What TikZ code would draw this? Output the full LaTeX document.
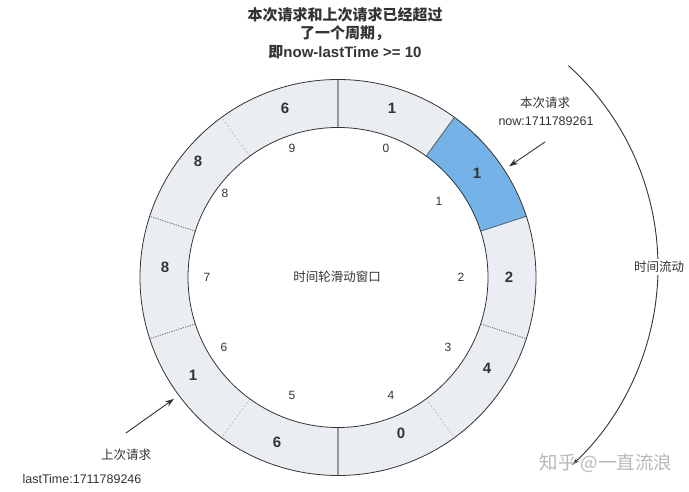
\documentclass[tikz,border=0pt]{standalone}
\usepackage{fontspec}
\setmainfont{Liberation Sans}
\newfontfamily\cjk{Noto Sans CJK SC}
\usetikzlibrary{arrows.meta}
\definecolor{ringfill}{HTML}{EAEEF2}
\definecolor{ringblue}{HTML}{74B3E7}
\definecolor{txt}{HTML}{333333}
\definecolor{softline}{HTML}{BBBBBB}
\definecolor{midline}{HTML}{999999}
\begin{document}
\begin{tikzpicture}[x=1pt,y=1pt,
  seglabel/.style={font=\fontsize{15}{18}\selectfont\bfseries, text=txt, inner sep=0pt},
  idxlabel/.style={font=\fontsize{12}{14}\selectfont, text=txt, inner sep=0pt},
  note/.style={font=\fontsize{12.5}{15}\selectfont, text=txt, inner sep=1pt},
  pointer/.style={-{Stealth[length=9pt,width=6pt]}, line width=0.9pt, draw=txt},
  flowline/.style={-{Stealth[length=8pt,width=4pt]}, line width=0.9pt, draw=txt},
  solidsep/.style={draw=midline, line width=1.3pt},
  darksep/.style={draw=txt!80, line width=0.7pt, dash pattern=on 1.2pt off 1.2pt},
  softsep/.style={draw=softline, line width=0.7pt, dash pattern=on 2pt off 2pt},
  bluesep/.style={draw=txt!80, line width=0.8pt}]
\useasboundingbox (0,0) rectangle (689,492);

% ring
\begin{scope}[shift={(338,214.5)}]
  \fill[ringfill, even odd rule] (0,0) circle (198) (0,0) circle (150);
  \fill[ringblue] (18:198) arc[start angle=18,end angle=54,radius=198]
     -- (54:150) arc[start angle=54,end angle=18,radius=150] -- cycle;
  \draw[solidsep] (90:150) -- (90:198);
  \draw[solidsep] (270:150) -- (270:198);
  \draw[bluesep] (54:150) -- (54:198);
  \draw[bluesep] (18:150) -- (18:198);
  \draw[darksep] (-18:150) -- (-18:198);
  \draw[darksep] (162:150) -- (162:198);
  \draw[darksep] (-162:150) -- (-162:198);
  \draw[softsep] (126:150) -- (126:198);
  \draw[softsep] (-54:150) -- (-54:198);
  \draw[softsep] (-126:150) -- (-126:198);
  \draw[txt, line width=0.8pt] (0,0) circle (198) (0,0) circle (150);
  \coordinate (nowhit) at (33:204);
  \coordinate (lasthit) at (-143.5:204);
\end{scope}

% segment counts
\node[seglabel] (s9) at (285,384) {6};
\node[seglabel] (s0) at (392,384) {1};
\node[seglabel] (s8) at (198,331) {8};
\node[seglabel] (s1) at (477,319) {1};
\node[seglabel] (s7) at (165,225) {8};
\node[seglabel] (s2) at (509,215) {2};
\node[seglabel] (s3) at (487,124) {4};
\node[seglabel] (s6) at (193,117) {1};
\node[seglabel] (s5) at (277,50) {6};
\node[seglabel] (s4) at (401,59) {0};

% indices
\node[idxlabel] (i0) at (386,344) {0};
\node[idxlabel] (i1) at (439,291) {1};
\node[idxlabel] (i2) at (461,215) {2};
\node[idxlabel] (i3) at (448,145) {3};
\node[idxlabel] (i4) at (391,97) {4};
\node[idxlabel] (i5) at (292,97) {5};
\node[idxlabel] (i6) at (224,145) {6};
\node[idxlabel] (i7) at (207,215) {7};
\node[idxlabel] (i8) at (225,299) {8};
\node[idxlabel] (i9) at (292,344) {9};

\node[note] (center) at (337,215) {\cjk 时间轮滑动窗口};

% title
\node[font=\fontsize{15}{18.5}\selectfont\bfseries, text=txt, align=center] (title) at (345,459)
  {{\cjk 本次请求和上次请求已经超过}\\{\cjk 了一个周期，}\\{\cjk 即}now-lastTime >= 10};

% current request
\node[note] (nowA) at (545,389) {\cjk 本次请求};
\node[note] (nowB) at (546,371) {now:1711789261};
\coordinate (nowtail) at (545,350);
\draw[pointer] (nowtail) -- (nowhit);

% last request
\node[note] (lastA) at (126,37) {\cjk 上次请求};
\node[note] (lastB) at (82,13) {lastTime:1711789246};
\coordinate (lasttail) at (126,59);
\draw[pointer] (lasttail) -- (lasthit);

% time flow arc
\path (387,225) ++(48:271) coordinate (flowstart);
\draw[flowline] (flowstart) arc[start angle=48, end angle=-47, radius=271] coordinate (flowend);
\node[note, fill=white, inner sep=2pt] (flow) at (659,225) {\cjk 时间流动};

% watermark
\node[font=\fontsize{18.5}{20}\selectfont, text=black!28] (mark) at (606,29) {\cjk 知乎 @一直流浪};
\end{tikzpicture}
\end{document}
